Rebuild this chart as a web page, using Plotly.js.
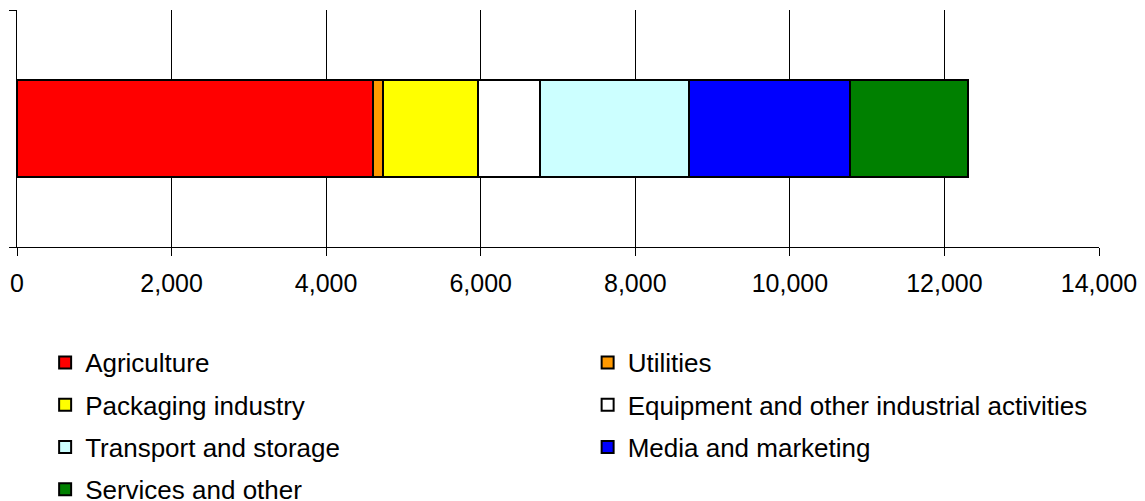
<!DOCTYPE html>
<html>
<head>
<meta charset="utf-8">
<script src="https://cdn.plot.ly/plotly-3.0.1.min.js"></script>
<style>html,body{margin:0;padding:0;background:#fff;}#chart{width:1145px;height:501px;}</style>
</head>
<body>
<div id="chart"></div>
<script>
const categories = ['Total'];
const seriesNames = ['Agriculture', 'Utilities', 'Packaging industry', 'Equipment and other industrial activities', 'Transport and storage', 'Media and marketing', 'Services and other'];
const seriesValues = [4600, 130, 1230, 810, 1930, 2080, 1520];
const seriesColors = ['#FF0000', '#FF9900', '#FFFF00', '#FFFFFF', '#CCFFFF', '#0000FF', '#008000'];
const xTickValues = [0, 2000, 4000, 6000, 8000, 10000, 12000, 14000];

const traces = seriesNames.map((name, i) => ({
  type: 'bar',
  orientation: 'h',
  name: '<span style="font-size:26px;baseline-shift:2.5px">' + name + '</span>',
  y: categories,
  x: [seriesValues[i]],
  width: 0.406,
  marker: { color: seriesColors[i], line: { color: '#000', width: 2 } },
  hoverinfo: 'x'
}));

const layout = {
  width: 1145,
  height: 501,
  barmode: 'stack',
  paper_bgcolor: '#fff',
  plot_bgcolor: '#fff',
  font: { family: '"Liberation Sans", Arial, sans-serif', size: 25, color: '#000' },
  margin: { l: 16.7, r: 45.7, t: 10, b: 254.3, pad: 0, autoexpand: false },
  showlegend: true,
  xaxis: {
    range: [0, 14000],
    tickvals: xTickValues,
    tickformat: ',d',
    showgrid: true,
    gridcolor: '#000',
    gridwidth: 1,
    zeroline: false,
    showline: true,
    linecolor: '#000',
    linewidth: 1,
    ticks: 'outside',
    ticklen: 8,
    tickcolor: '#000',
    tickfont: { size: 25, color: '#000' },
    ticklabelstandoff: 6,
    fixedrange: true
  },
  yaxis: {
    type: 'category',
    range: [-0.5, 0.5],
    showticklabels: false,
    tickson: 'boundaries',
    ticks: 'outside',
    ticklen: 7,
    tickcolor: '#000',
    showgrid: false,
    zeroline: false,
    showline: true,
    linecolor: '#000',
    linewidth: 1,
    fixedrange: true
  },
  legend: {
    orientation: 'h',
    x: 0.026,
    xanchor: 'left',
    y: -0.3773,
    yanchor: 'top',
    entrywidth: 497.5,
    entrywidthmode: 'pixels',
    traceorder: 'normal',
    font: { size: 30.2, color: '#000' },
    bgcolor: 'rgba(0,0,0,0)'
  }
};

Plotly.newPlot('chart', traces, layout, { displayModeBar: false, staticPlot: true });
</script>
</body>
</html>
